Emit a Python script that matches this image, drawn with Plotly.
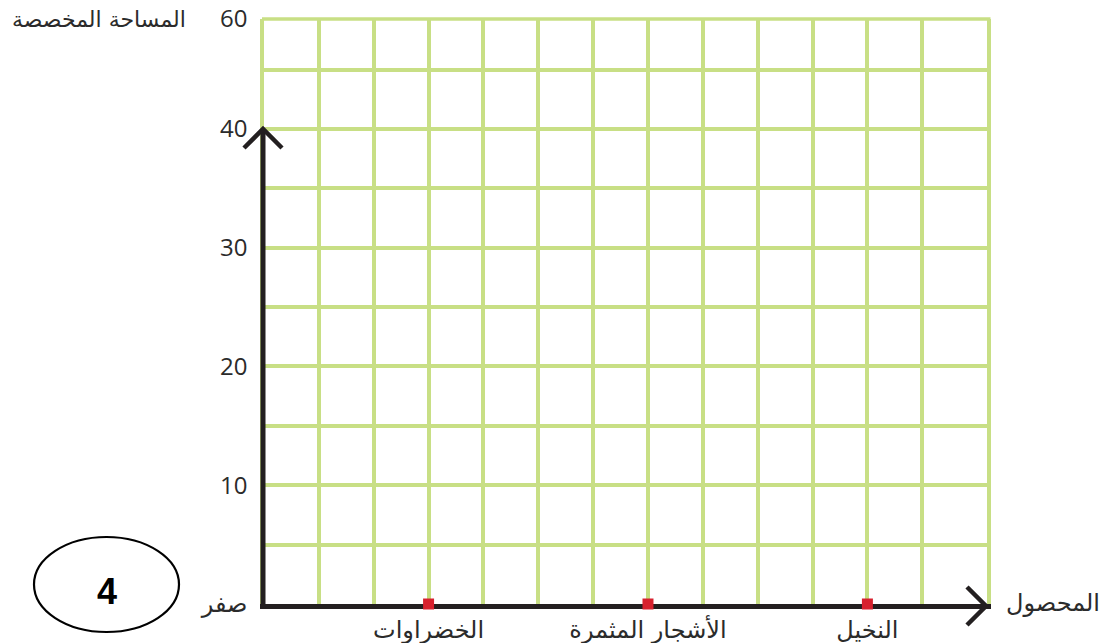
import plotly.graph_objects as go

# ---- data ----
categories = ["الخضراوات", "الأشجار المثمرة", "النخيل"]
category_cells = [3, 7, 11]          # grid column of each crop on the x axis
marker_values = [0, 0, 0]            # red markers lie on the x axis
y_tick_values = [0, 10, 20, 30, 40]
y_tick_labels = ["صفر", "10", "20", "30", "40"]
y_top_label = "60"
x_title = "المحصول"
y_title = "المساحة المخصصة"
badge_text = "4"

X_MAX = 13.18          # right border of the grid (last column is wider)
Y_MAX = 49.26          # top border of the grid (labelled 60)
Y_ARROW = 40
X_ARROW = 13.18
N_COLS = 12
GRID = "#c8df85"
INK = "#231f20"
TXT = "#2b2b2b"

L, R, T, B = 264, 117, 19, 39
W, H = 1104 - L - R, 643 - T - B

def dx(v):   # data x -> paper fraction
    return v / X_MAX
def dy(v):   # data y -> paper fraction
    return v / Y_MAX
def ppx(p):  # pixel offset -> paper fraction
    return p / W
def ppy(p):
    return p / H
def px(xp):  # absolute pixel -> paper
    return (xp - L) / W
def py(yp):
    return (643 - B - yp) / H

fig = go.Figure()

fig.add_trace(go.Scatter(
    x=category_cells, y=marker_values, mode="markers",
    marker=dict(symbol="square", size=11, color="#d7212e", line=dict(width=0)),
    cliponaxis=False, showlegend=False, hoverinfo="skip",
))

# green top border of the grid
fig.add_shape(type="line", xref="paper", yref="paper",
              x0=-ppx(2), x1=1 + ppx(3.5), y0=1, y1=1,
              line=dict(color=GRID, width=3.5), layer="above")

# black vertical axis (up to 40) and chevron arrowheads
ax_x_end = dx(X_ARROW) - ppx(1)
ax_y_end = dy(Y_ARROW)
fig.add_shape(type="path", xref="paper", yref="paper",
              path=f"M {-ppx(1)},{ax_y_end} L {-ppx(1)},{-ppy(4)}",
              line=dict(color=INK, width=5), layer="above")
a = 19
fig.add_shape(type="path", xref="paper", yref="paper",
              path=(f"M {ax_x_end - ppx(a)},{ppy(a) - ppy(2)} L {ax_x_end},{-ppy(2)} "
                    f"L {ax_x_end - ppx(a)},{-ppy(a) - ppy(2)}"),
              line=dict(color=INK, width=4.5), layer="above")
fig.add_shape(type="path", xref="paper", yref="paper",
              path=(f"M {-ppx(a) - ppx(1)},{ax_y_end - ppy(a)} L {-ppx(1)},{ax_y_end} "
                    f"L {ppx(a) - ppx(1)},{ax_y_end - ppy(a)}"),
              line=dict(color=INK, width=4.5), layer="above")

# badge ellipse
fig.add_shape(type="circle", xref="paper", yref="paper",
              x0=px(34), x1=px(179), y0=py(632), y1=py(537),
              line=dict(color="black", width=2.2), layer="above")
fig.add_annotation(xref="paper", yref="paper", x=px(106.5), y=py(591),
                   xanchor="center", yanchor="middle",
                   text=f"<b>{badge_text}</b>", showarrow=False,
                   font=dict(family="Liberation Sans, Arial", size=36, color="black"))

# axis titles
fig.add_annotation(xref="paper", yref="paper", x=px(1004), y=py(603),
                   xanchor="left", yanchor="middle", text=x_title, showarrow=False,
                   font=dict(family="DejaVu Sans", size=24, color=TXT))
fig.add_annotation(xref="paper", yref="paper", x=px(188), y=py(20),
                   xanchor="right", yanchor="middle", text=y_title, showarrow=False,
                   font=dict(family="DejaVu Sans", size=22, color=TXT))

fig.update_layout(
    width=1104, height=643,
    margin=dict(l=L, r=R, t=T, b=B),
    paper_bgcolor="white", plot_bgcolor="white",
    showlegend=False,
    xaxis=dict(
        range=[0, X_MAX], tickmode="array", tickvals=category_cells, ticktext=categories,
        showgrid=True, gridcolor=GRID, gridwidth=3.5, zeroline=False,
        showline=True, linecolor=INK, linewidth=5, mirror=False,
        ticks="", ticklabelstandoff=0, automargin=False, layer="below traces",
        tickfont=dict(family="DejaVu Sans", size=24, color=TXT),
        minor=dict(tickmode="array", tickvals=list(range(N_COLS + 1)) + [X_MAX],
                   showgrid=True, gridcolor=GRID, gridwidth=3.5),
        fixedrange=True,
    ),
    yaxis=dict(
        range=[0, Y_MAX], tickmode="array",
        tickvals=y_tick_values + [Y_MAX], ticktext=y_tick_labels + [y_top_label],
        showgrid=True, gridcolor=GRID, gridwidth=3.5, zeroline=False,
        showline=True, linecolor=GRID, linewidth=3.5, mirror=True,
        ticks="", ticklabelstandoff=8, automargin=False, layer="below traces",
        tickfont=dict(family="Open Sans, DejaVu Sans", size=24, color=TXT),
        minor=dict(tickmode="array", tickvals=[5, 15, 25, 35, 45],
                   showgrid=True, gridcolor=GRID, gridwidth=3.5),
        fixedrange=True,
    ),
)

fig.write_html("out.html", config={"displayModeBar": False},
               post_script="document.body.style.margin='0';")
